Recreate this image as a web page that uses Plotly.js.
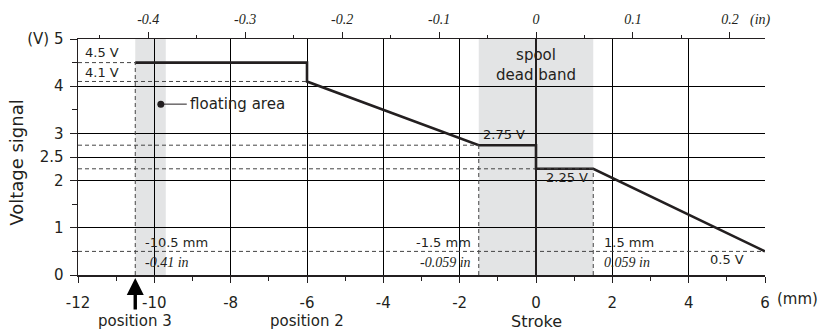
<!DOCTYPE html>
<html><head><meta charset="utf-8">
<script src="https://cdn.plot.ly/plotly-3.0.1.min.js"></script>
<style>html,body{margin:0;padding:0;background:#fff}#chart{width:822px;height:331px}</style>
</head><body><div id="chart"></div>
<script>
// ---- data ----
var strokeMm = [-10.5, -6, -6, -1.5, 0, 0, 1.5, 6];
var voltage  = [4.5, 4.5, 4.1, 2.75, 2.75, 2.25, 2.25, 0.5];

var xTickVals = [-12, -10, -8, -6, -4, -2, 0, 2, 4, 6];
var xTickText = ['-12', '-10', '-8', '-6', '-4', '-2', '0', '2', '4', '6'];
var xMinorVals = [-11, -9, -7, -5, -3, -1, 1, 3, 5];
var yTickVals = [0, 1, 2, 2.5, 3, 4, 5];
var yTickText = ['0', '1', '2', '2.5', '3', '4', '(V) 5'];
var yMinorVals = [0.5, 1.5, 3.5, 4.5];
var inTickVals = [-0.4, -0.3, -0.2, -0.1, 0, 0.1, 0.2];
var inTickText = ['-0.4', '-0.3', '-0.2', '-0.1', '0', '0.1', '0.2'];
var inMinorVals = [-0.45, -0.35, -0.25, -0.15, -0.05, 0.05, 0.15];

var floatingBand = [-10.5, -9.7];
var deadBand = [-1.5, 1.5];

// dashed reference lines: [xEnd, level]
var hLevels = [[-10.5, 4.5], [-6, 4.1], [-1.5, 2.75], [1.5, 2.25], [6, 0.5]];
var vLevels = [[-10.5, 4.5], [-1.5, 2.75], [1.5, 2.25]];

var ink = '#231f20';
var sans = 'DejaVu Sans, Verdana, sans-serif';
var serif = 'Liberation Serif, Times New Roman, serif';

var shapes = [];
shapes.push({type:'rect', xref:'x', yref:'y', x0:floatingBand[0], x1:floatingBand[1], y0:0, y1:5, fillcolor:'#e3e4e5', line:{width:0}, layer:'below'});
shapes.push({type:'rect', xref:'x', yref:'y', x0:deadBand[0], x1:deadBand[1], y0:0, y1:5, fillcolor:'#e3e4e5', line:{width:0}, layer:'below'});
hLevels.forEach(function(h){
  shapes.push({type:'line', xref:'x', yref:'y', x0:-12, x1:h[0], y0:h[1], y1:h[1], line:{color:'#444', width:1, dash:'4px,3px'}});
});
vLevels.forEach(function(v){
  shapes.push({type:'line', xref:'x', yref:'y', x0:v[0], x1:v[0], y0:0, y1:v[1], line:{color:'#444', width:1, dash:'4px,3px'}});
});
shapes.push({type:'line', xref:'x', yref:'y', x0:0, x1:0, y0:0, y1:5, line:{color:ink, width:2}});
shapes.push({type:'line', xref:'x', yref:'y', x0:-9.83, x1:-9.15, y0:3.62, y1:3.62, line:{color:ink, width:1}});

var traces = [
  {x: strokeMm, y: voltage, type:'scatter', mode:'lines', line:{color:ink, width:2.6}, hoverinfo:'skip'},
  {x: [-9.83], y: [3.62], type:'scatter', mode:'markers', marker:{color:ink, size:7}, hoverinfo:'skip'},
  {x: [inTickVals[0]], y: [0], xaxis:'x2', yaxis:'y', type:'scatter', mode:'markers', marker:{opacity:0}, hoverinfo:'skip'}
];

function ann(text, x, y, xa, size, extra){
  var a = {text:text, x:x, y:y, xref:'x', yref:'y', xanchor:xa||'center', yanchor:'middle', showarrow:false,
           font:{family:sans, size:size||13, color:ink}};
  if (extra) for (var k in extra) a[k] = extra[k];
  return a;
}
var it = function(s){ return '<i>' + s + '</i>'; };

var annotations = [
  ann('4.5 V', -11.88, 4.71, 'left'),
  ann('4.1 V', -11.88, 4.28, 'left'),
  ann('floating area', -9.13, 3.62, 'left', 15),
  ann('spool<br>dead band', 0, 4.44, 'center', 15),
  ann('2.75 V', -1.45, 2.97, 'left'),
  ann('2.25 V', 0.22, 2.07, 'left'),
  ann('-10.5 mm', -10.3, 0.68, 'left'),
  ann(it('-0.41 in'), -10.3, 0.27, 'left', 14, {font:{family:serif, size:14, color:ink}}),
  ann('-1.5 mm', -1.64, 0.68, 'right'),
  ann(it('-0.059 in'), -1.64, 0.27, 'right', 14, {font:{family:serif, size:14, color:ink}}),
  ann('1.5 mm', 1.74, 0.68, 'left'),
  ann(it('0.059 in'), 1.74, 0.27, 'left', 14, {font:{family:serif, size:14, color:ink}}),
  ann('0.5 V', 5.0, 0.33, 'center'),
  {text:'(mm)', x:1.015, y:-0.10, xref:'paper', yref:'paper', xanchor:'left', yanchor:'middle', showarrow:false, font:{family:sans, size:15, color:ink}},
  {text:it('(in)'), x:0.975, y:1.08, xref:'paper', yref:'paper', xanchor:'left', yanchor:'middle', showarrow:false, font:{family:serif, size:14, color:ink}},
  {text:'position 3', x:-10.5, y:-0.196, xref:'x', yref:'paper', xanchor:'center', yanchor:'middle', showarrow:false, font:{family:sans, size:15, color:ink}},
  {text:'position 2', x:-6, y:-0.196, xref:'x', yref:'paper', xanchor:'center', yanchor:'middle', showarrow:false, font:{family:sans, size:15, color:ink}},
  {text:'Stroke', x:0, y:-0.197, xref:'x', yref:'paper', xanchor:'center', yanchor:'middle', showarrow:false, font:{family:sans, size:16, color:ink}},
  {text:'position 1', x:6.23, y:-0.196, xref:'x', yref:'paper', xanchor:'center', yanchor:'middle', showarrow:false, font:{family:sans, size:15, color:ink}},
  {text:'Voltage signal', x:-0.089, y:0.475, xref:'paper', yref:'paper', xanchor:'center', yanchor:'middle', textangle:-90, showarrow:false, font:{family:sans, size:18, color:ink}},
  {text:'', x:-10.5, y:0, xref:'x', yref:'y', showarrow:true, ax:0, ay:36, axref:'pixel', ayref:'pixel', arrowhead:2, arrowsize:1, arrowwidth:3.4, arrowcolor:'#000', standoff:3}
];

var layout = {
  width:822, height:331,
  margin:{l:78, r:57, t:39, b:56},
  paper_bgcolor:'#fff', plot_bgcolor:'#fff',
  showlegend:false,
  xaxis:{range:[-12, 6], tickvals:xTickVals, ticktext:xTickText, ticks:'outside', ticklen:6, tickcolor:ink, tickwidth:1,
         showgrid:true, gridcolor:'#000', gridwidth:1, zeroline:false, showline:true, linecolor:ink, linewidth:1.5,
         ticklabelstandoff:7, tickfont:{family:sans, size:15, color:ink},
         minor:{tickvals:xMinorVals, ticks:'outside', ticklen:4, tickcolor:ink, showgrid:false}},
  xaxis2:{overlaying:'x', side:'top', range:[-12/25.4, 6/25.4], tickvals:inTickVals, ticktext:inTickText,
          ticks:'outside', ticklen:6, tickcolor:ink, showgrid:false, zeroline:false, showline:true, linecolor:ink, linewidth:1.5,
          ticklabelstandoff:2, tickfont:{family:serif, size:14, color:ink, style:'italic'},
          minor:{tickvals:inMinorVals, ticks:'outside', ticklen:3, tickcolor:ink, showgrid:false}},
  yaxis:{range:[0, 5], tickvals:yTickVals, ticktext:yTickText, ticks:'outside', ticklen:7, tickcolor:ink,
         showgrid:true, gridcolor:'#000', gridwidth:1, zeroline:false, showline:true, linecolor:ink, linewidth:1.5,
         ticklabelstandoff:3, tickfont:{family:sans, size:15, color:ink},
         minor:{tickvals:yMinorVals, ticks:'outside', ticklen:5, tickcolor:ink, showgrid:false}},
  shapes:shapes,
  annotations:annotations
};

Plotly.newPlot('chart', traces, layout, {staticPlot:true, displayModeBar:false});
</script>
</body></html>
